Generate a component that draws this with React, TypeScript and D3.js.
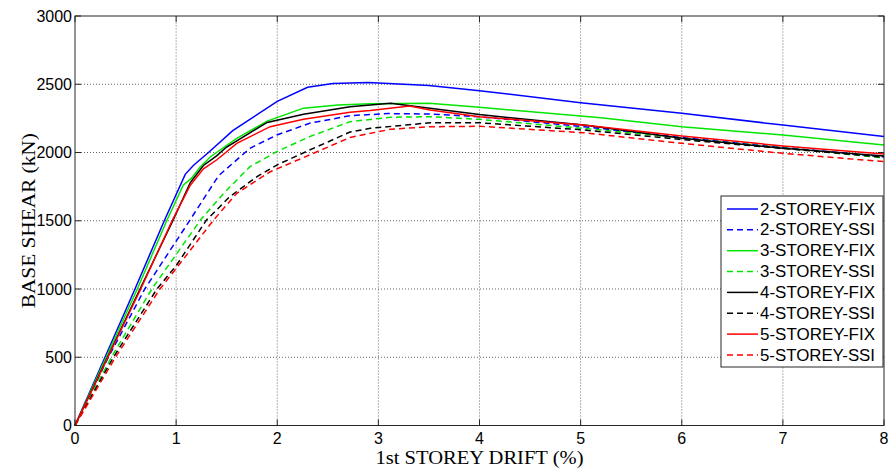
import React from "react";
import * as d3 from "d3";

const W = 889;
const H = 470;
const M = { left: 75, right: 5, top: 16, bottom: 44.5 };

const xTicks = [0, 1, 2, 3, 4, 5, 6, 7, 8];
const yTicks = [0, 500, 1000, 1500, 2000, 2500, 3000];

const seriesNames = [
  "2-STOREY-FIX",
  "2-STOREY-SSI",
  "3-STOREY-FIX",
  "3-STOREY-SSI",
  "4-STOREY-FIX",
  "4-STOREY-SSI",
  "5-STOREY-FIX",
  "5-STOREY-SSI",
];
const seriesColors = ["#0000ff", "#0000ff", "#00e600", "#00e600", "#000000", "#000000", "#ff0000", "#ff0000"];
const seriesDashed = [false, true, false, true, false, true, false, true];

// [drift %, base shear kN]
const fix2: [number, number][] = [
  [0, 0], [0.593, 1000], [0.883, 1500], [1.09, 1840], [1.17, 1905], [1.32, 2000], [1.56, 2160],
  [2.0, 2375], [2.3, 2478], [2.55, 2505], [2.9, 2512], [3.5, 2490], [4.0, 2453], [5.0, 2365],
  [6.0, 2287], [7.0, 2201], [8.0, 2118],
];
const ssi2: [number, number][] = [
  [0, 0], [0.33, 500], [0.69, 1000], [1.15, 1520], [1.42, 1830], [1.73, 2031], [1.995, 2128],
  [2.32, 2214], [2.72, 2270], [3.1, 2285], [3.51, 2282], [4.0, 2262], [5.03, 2189],
  [6.0, 2110], [7.0, 2038], [8.0, 1968],
];
const fix3: [number, number][] = [
  [0, 0], [0.616, 1000], [0.907, 1500], [1.07, 1760], [1.15, 1810], [1.24, 1896], [1.34, 1969],
  [1.6, 2104], [1.9, 2230], [2.26, 2325], [2.6, 2348], [2.92, 2357], [3.5, 2360], [4.0, 2331],
  [5.2, 2255], [6.0, 2189], [7.0, 2128], [8.0, 2055],
];
const ssi3: [number, number][] = [
  [0, 0], [0.36, 500], [0.76, 1000], [1.24, 1505], [1.47, 1701], [1.73, 1896], [1.995, 2006],
  [2.32, 2116], [2.72, 2226], [3.12, 2258], [3.51, 2262], [4.0, 2243], [5.03, 2177],
  [6.0, 2105], [7.0, 2035], [8.0, 1960],
];
const fix4: [number, number][] = [
  [0, 0], [0.643, 1000], [0.97, 1505], [1.14, 1780], [1.27, 1905], [1.4, 1975], [1.5, 2040],
  [1.9, 2220], [2.26, 2280], [2.72, 2336], [3.12, 2360], [3.51, 2324], [4.0, 2278],
  [5.03, 2201], [6.0, 2104], [7.0, 2031], [8.0, 1974],
];
const ssi4: [number, number][] = [
  [0, 0], [0.38, 500], [0.81, 1000], [1.0, 1170], [1.3, 1505], [1.53, 1676], [1.8, 1823],
  [1.995, 1908], [2.32, 2018], [2.72, 2150], [2.92, 2177], [3.51, 2218], [4.0, 2218],
  [5.03, 2165], [6.0, 2095], [7.0, 2030], [8.0, 1965],
];
const fix5: [number, number][] = [
  [0, 0], [0.65, 1000], [0.96, 1500], [1.14, 1760], [1.27, 1880], [1.4, 1945], [1.6, 2067],
  [1.93, 2189], [2.26, 2243], [2.72, 2294], [2.92, 2307], [3.31, 2341], [3.51, 2311],
  [4.0, 2262], [5.03, 2201], [6.0, 2121], [7.0, 2048], [8.0, 1989],
];
const ssi5: [number, number][] = [
  [0, 0], [0.4, 500], [0.84, 1000], [1.0, 1150], [1.37, 1505], [1.6, 1701], [1.93, 1859],
  [2.32, 1982], [2.72, 2110], [3.12, 2170], [3.51, 2189], [4.0, 2192], [5.03, 2145],
  [6.0, 2067], [7.0, 1994], [8.0, 1933],
];

const seriesData = [fix2, ssi2, fix3, ssi3, fix4, ssi4, fix5, ssi5];

export default function App() {
  const x = d3.scaleLinear().domain([0, 8]).range([M.left, W - M.right]);
  const y = d3.scaleLinear().domain([0, 3000]).range([H - M.bottom, M.top]);
  const line = d3
    .line<[number, number]>()
    .x((d) => x(d[0]))
    .y((d) => y(d[1]));

  const x0 = x(0), x1 = x(8), y0 = y(0), y1 = y(3000);
  const tick = 6;
  const axisColor = "#262626";
  const sans = "'Liberation Sans', Arial, sans-serif";
  const serif = "'Liberation Serif', 'Times New Roman', serif";

  const lg = { left: 721, top: 196, right: 883, bottom: 367, first: 209, step: 20.85 };

  return (
    <svg width={W} height={H} style={{ position: "absolute", left: 0, top: 0, background: "#fff" }}>
      <rect x={0} y={0} width={W} height={H} fill="#fff" />
      {/* grid */}
      {xTicks.slice(1, -1).map((t) => (
        <line key={"gx" + t} x1={x(t)} x2={x(t)} y1={y0} y2={y1} stroke="#666" strokeWidth={1} strokeDasharray="1,2" />
      ))}
      {yTicks.slice(1, -1).map((t) => (
        <line key={"gy" + t} x1={x0} x2={x1} y1={y(t)} y2={y(t)} stroke="#666" strokeWidth={1} strokeDasharray="1,2" />
      ))}
      {/* series */}
      {seriesData.map((d, i) => (
        <path
          key={"s" + i}
          d={line(d) || ""}
          fill="none"
          stroke={seriesColors[i]}
          strokeWidth={1.5}
          strokeDasharray={seriesDashed[i] ? "6,4" : undefined}
        />
      ))}
      {/* axes box */}
      <rect x={x0} y={y1} width={x1 - x0} height={y0 - y1} fill="none" stroke={axisColor} strokeWidth={1} />
      {xTicks.map((t) => (
        <g key={"tx" + t}>
          <line x1={x(t)} x2={x(t)} y1={y0} y2={y0 - tick} stroke={axisColor} />
          <line x1={x(t)} x2={x(t)} y1={y1} y2={y1 + tick} stroke={axisColor} />
          <text x={x(t)} y={443.5} textAnchor="middle" fontFamily={sans} fontSize={16} fill="#000">
            {t}
          </text>
        </g>
      ))}
      {yTicks.map((t) => (
        <g key={"ty" + t}>
          <line x1={x0} x2={x0 + tick} y1={y(t)} y2={y(t)} stroke={axisColor} />
          <line x1={x1} x2={x1 - tick} y1={y(t)} y2={y(t)} stroke={axisColor} />
          <text x={72} y={y(t)} dy="0.35em" textAnchor="end" fontFamily={sans} fontSize={16} fill="#000">
            {t}
          </text>
        </g>
      ))}
      {/* axis labels */}
      <text
        x={(x0 + x1) / 2}
        y={463.5}
        textAnchor="middle"
        fontFamily={serif}
        fontSize={18}
        textLength={208}
        lengthAdjust="spacingAndGlyphs"
        fill="#000"
      >
        1st STOREY DRIFT (%)
      </text>
      <text
        transform={`translate(35, ${(y0 + y1) / 2}) rotate(-90)`}
        textAnchor="middle"
        fontFamily={serif}
        fontSize={18}
        textLength={175}
        lengthAdjust="spacingAndGlyphs"
        fill="#000"
      >
        BASE SHEAR (kN)
      </text>
      {/* legend */}
      <rect x={lg.left} y={lg.top} width={lg.right - lg.left} height={lg.bottom - lg.top} fill="#fff" stroke={axisColor} strokeWidth={1} />
      {seriesNames.map((n, i) => {
        const cy = lg.first + i * lg.step;
        return (
          <g key={"lg" + i}>
            <line
              x1={727}
              x2={758}
              y1={cy}
              y2={cy}
              stroke={seriesColors[i]}
              strokeWidth={1.5}
              strokeDasharray={seriesDashed[i] ? "6,4" : undefined}
            />
            <text x={760} y={cy} dy="0.35em" fontFamily={sans} fontSize={16} textLength={115} lengthAdjust="spacingAndGlyphs" fill="#000">
              {n}
            </text>
          </g>
        );
      })}
    </svg>
  );
}
